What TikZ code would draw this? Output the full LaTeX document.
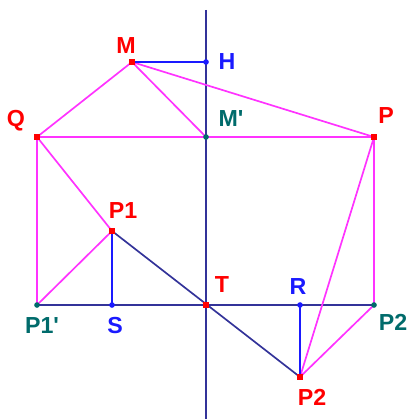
\documentclass[tikz,border=0pt]{standalone}
\usepackage{fontspec}
\setmainfont{Liberation Sans}
\usepackage{tikz}
\usetikzlibrary{positioning, calc}
\usepackage{xcolor}
\definecolor{pinkline}{HTML}{FF33FF}
\definecolor{navyline}{HTML}{333399}
\definecolor{blueline}{HTML}{1A1AFF}
\definecolor{redpt}{HTML}{FF0000}
\definecolor{tealpt}{HTML}{006B6B}

\tikzset{
    pinkseg/.style={draw=pinkline, line width=1.2pt},
    navyseg/.style={draw=navyline, line width=1.2pt},
    blueseg/.style={draw=blueline, line width=1.2pt},
    lbl/.style={font=\fontsize{16.5}{18}\selectfont\bfseries, inner sep=0pt},
    dotpt/.style={fill=#1, minimum size=4pt, inner sep=0pt}
}

\begin{document}
\begin{tikzpicture}[x=0.025cm, y=-0.025cm]
                \useasboundingbox (0,0) rectangle (413,419);
                % points
                \coordinate (M) at (132,62);
                \coordinate (H) at (206,62);
                \coordinate (Mp) at (206,137);
                \coordinate (Q) at (37,137);
                \coordinate (P) at (374,137);
                \coordinate (P1) at (112,231);
                \coordinate (P1p) at (37,305);
                \coordinate (S) at (112,305);
                \coordinate (T) at (206,305);
                \coordinate (R) at (300,305);
                \coordinate (P2p) at (374,305);
                \coordinate (P2) at (300,377);
                \coordinate (axtop) at (206,10);
                \coordinate (axbot) at (206,419);
                % axis and base line
                \draw[navyseg] (axtop) -- (axbot);
                \draw[navyseg] (P1p) -- (P2p);
                \draw[navyseg] (P1) -- (P2);
                % pink construction
                \draw[pinkseg] (Q) -- (M) -- (Mp);
                \draw[pinkseg] (M) -- (P);
                \draw[pinkseg] (Q) -- (P);
                \draw[pinkseg] (Q) -- (P1p) -- (P1) -- (Q);
                \draw[pinkseg] (P) -- (P2p) -- (P2) -- (P);
                % blue projections
                \draw[blueseg] (M) -- (H);
                \draw[blueseg] (P1) -- (S);
                \draw[blueseg] (R) -- (P2);
                % dots
                \foreach \pt in {M, Q, P, P1, T, P2}
                    \node[dotpt=redpt, rectangle] at (\pt) {};
                \foreach \pt in {H, S, R}
                    \node[dotpt=blueline, circle] at (\pt) {};
                \foreach \pt in {Mp, P1p, P2p}
                    \node[dotpt=tealpt, circle] at (\pt) {};
                % labels
                \node[lbl, text=redpt] (labM) at (126,46) {M};
                \node[lbl, text=blueline] (labH) at (227,62) {H};
                \node[lbl, text=tealpt] (labMp) at (231,119) {M\textquotesingle};
                \node[lbl, text=redpt] (labQ) at (16,121) {Q};
                \node[lbl, text=redpt] (labP) at (386,116) {P};
                \node[lbl, text=redpt] (labP1) at (123,211) {P1};
                \node[lbl, text=redpt] (labT) at (222,285) {T};
                \node[lbl, text=blueline] (labR) at (298,287) {R};
                \node[lbl, text=tealpt] (labP1p) at (42,326) {P1\textquotesingle};
                \node[lbl, text=blueline] (labS) at (115,326) {S};
                \node[lbl, text=tealpt] (labP2p) at (393,322) {P2};
                \node[lbl, text=redpt] (labP2) at (312,397) {P2};
            \end{tikzpicture}
\end{document}
